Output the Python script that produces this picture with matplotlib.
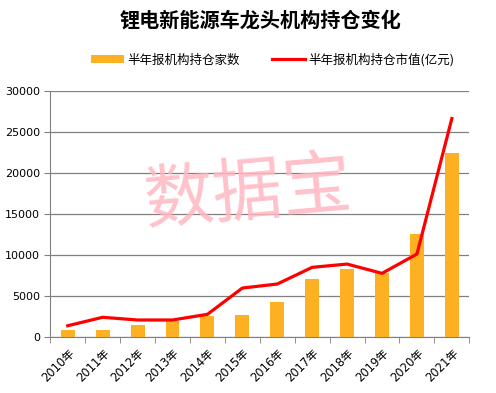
import numpy as np
import matplotlib
matplotlib.use("Agg")
import matplotlib.pyplot as plt

plt.rcParams['font.family'] = ['Noto Sans CJK SC', 'DejaVu Sans']

years = ["2010年", "2011年", "2012年", "2013年", "2014年", "2015年",
         "2016年", "2017年", "2018年", "2019年", "2020年", "2021年"]
# 半年报机构持仓家数
holders = [900, 900, 1500, 2000, 2600, 2700, 4300, 7050, 8300, 7800, 12570, 22400]
# 半年报机构持仓市值(亿元)
market_value = [1370, 2400, 2070, 2070, 2760, 5960, 6450, 8480, 8880, 7750, 10100, 26600]

tick_font = ['DejaVu Sans', 'Noto Sans CJK SC']

fig = plt.figure(figsize=(4.96, 3.93), dpi=100)
ax = fig.add_axes([0.1014, 0.1425, 0.8448, 0.627])

x = np.arange(len(years))
bars = ax.bar(x, holders, width=0.4, color="#FDB022", label="半年报机构持仓家数", zorder=2)
line, = ax.plot(x, market_value, color="#FF0000", lw=2.3, label="半年报机构持仓市值(亿元)", zorder=3)

ax.set_xlim(-0.5, len(years) - 0.5)
ax.set_ylim(0, 30000)
ax.set_yticks(range(0, 30001, 5000))
ax.set_yticklabels([str(v) for v in range(0, 30001, 5000)], family=tick_font, fontsize=8)
ax.yaxis.grid(True, color="#808080", lw=0.9, zorder=0)
ax.set_axisbelow(True)

ax.set_xticks(x)
ax.set_xticklabels(years, rotation=45, ha="right", rotation_mode="anchor",
                   family=tick_font, fontsize=8.3)
ax.set_xticks(np.arange(-0.5, len(years)), minor=True)
ax.tick_params(axis="x", which="major", length=0, pad=7)
ax.tick_params(axis="x", which="minor", length=4, color="#808080")
ax.tick_params(axis="y", length=4, color="#808080")

for s in ["top", "right"]:
    ax.spines[s].set_visible(False)
for s in ["left", "bottom"]:
    ax.spines[s].set_color("#808080")

# watermark
fig.text(0.5, 0.505, "数据宝", fontsize=50, color="#FFB6C1", alpha=0.85,
         rotation=5, ha="center", va="center", zorder=5)

fig.suptitle("锂电新能源车龙头机构持仓变化", x=0.525, y=0.975, fontsize=14.5, fontweight="bold")

fig.legend([bars, line], [bars.get_label(), line.get_label()],
           loc="center", bbox_to_anchor=(0.55, 0.848), ncol=2, frameon=False,
           fontsize=9, handlelength=2.6, columnspacing=2.6, handletextpad=0.3)

fig.savefig("out.png", dpi=100)
